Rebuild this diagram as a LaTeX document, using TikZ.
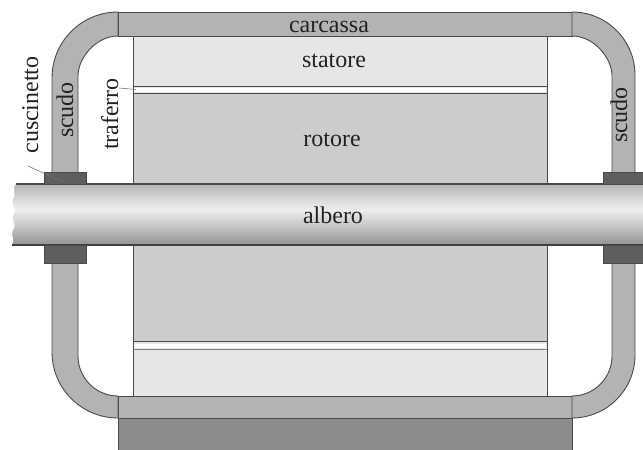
\documentclass[tikz,border=0pt]{standalone}
\usepackage{fontspec}
\setmainfont{Liberation Serif}
\newfontfamily\labelfont{Liberation Serif}
\definecolor{statcol}{HTML}{E6E6E6}
\definecolor{rotcol}{HTML}{CCCCCC}
\definecolor{framecol}{HTML}{B3B3B3}
\definecolor{footcol}{HTML}{8C8C8C}
\definecolor{bearcol}{HTML}{5E5E5E}
\definecolor{edgecol}{HTML}{4A4A4A}
\definecolor{txtcol}{HTML}{222222}
% shaft: dark rims, bright highlight a little above the axis
\pgfdeclareverticalshading{shaftshade}{100bp}{%
  color(0bp)=(black!85); color(4bp)=(black!70); color(18bp)=(black!52);
  color(36bp)=(black!28); color(54bp)=(black!7); color(62bp)=(black!14);
  color(76bp)=(black!30); color(90bp)=(black!50); color(96bp)=(black!68);
  color(100bp)=(black!78)}
\tikzset{
  part/.style={draw=edgecol, line width=0.9pt},
  lbl/.style={text=txtcol, inner sep=0pt, font=\labelfont\fontsize{24}{28}\selectfont},
  leader/.style={draw=black!55, line width=0.6pt},
}
\begin{document}
\begin{tikzpicture}[x=1pt, y=-1pt]
\useasboundingbox (0,0) rectangle (643,450);
\clip (0,0) rectangle (643,450);

% foot of the frame
\filldraw[part, fill=footcol] (118,418) rectangle (572,455);

% carcassa: top and bottom bands
\filldraw[part, fill=framecol] (118,12) rectangle (572,36);
\filldraw[part, fill=framecol] (118,396) rectangle (572,418);

% left end shield (scudo), upper and lower halves
\filldraw[part, fill=framecol] (52,180) -- (52,78)
  .. controls (52,41.5) and (81.5,12) .. (118,12) -- (118,36)
  .. controls (96,36) and (78,58) .. (78,76) -- (78,180) -- cycle;
\filldraw[part, fill=framecol] (52,250) -- (52,352)
  .. controls (52,388.5) and (81.5,418) .. (118,418) -- (118,396)
  .. controls (96,396) and (78,378) .. (78,356) -- (78,250) -- cycle;

% right end shield, upper and lower halves
\filldraw[part, fill=framecol] (635,180) -- (635,75)
  .. controls (635,40.2) and (606.8,12) .. (572,12) -- (572,36)
  .. controls (594,36) and (612,58) .. (612,76) -- (612,180) -- cycle;
\filldraw[part, fill=framecol] (635,250) -- (635,355)
  .. controls (635,389.8) and (606.8,418) .. (572,418) -- (572,396)
  .. controls (594,396) and (612,378) .. (612,356) -- (612,250) -- cycle;

% stator
\filldraw[part, fill=statcol] (133,36) rectangle (547,396);
% rotor
\filldraw[part, fill=rotcol] (133,93) rectangle (547,341);
% air gaps
\fill[white] (134,87.5) rectangle (546,91.5);
\draw[part] (133,86) -- (547,86);
\fill[white] (134,343.5) rectangle (546,347.5);
\draw[part, draw=black!50] (133,349.5) -- (547,349.5);

% shaft with broken left end
\shade[shading=shaftshade] (660,184) -- (16,184)
  .. controls (11,190) and (17,193) .. (13,199)
  .. controls (10,205) and (18,208) .. (14,214)
  .. controls (10,220) and (18,224) .. (13,230)
  .. controls (10,236) and (16,240) .. (12,245)
  -- (660,245) -- cycle;
\draw[edgecol, line width=1.2pt] (16,184) -- (660,184);
\draw[black!75, line width=1.4pt] (12,245) -- (660,245);

% bearings (cuscinetti)
\filldraw[part, fill=bearcol] (44,172) rectangle (86,184);
\filldraw[part, fill=bearcol] (44,245) rectangle (86,263);
\filldraw[part, fill=bearcol] (603,172) rectangle (660,184);
\filldraw[part, fill=bearcol] (603,245) rectangle (660,263);

% labels
\node[lbl, anchor=base] (carcassa) at (329,32) {carcassa};
\node[lbl, anchor=base] (statore) at (334,67) {statore};
\node[lbl, anchor=base] (rotore) at (332,146) {rotore};
\node[lbl, anchor=base] (albero) at (333,223) {albero};
\node[lbl, rotate=90, anchor=base] (scudoL) at (73,110) {scudo};
\node[lbl, rotate=90, anchor=base] (scudoR) at (627,115) {scudo};
\node[lbl, rotate=90, anchor=base] (traferro) at (118,114) {traferro};
\node[lbl, rotate=90, anchor=base] (cuscinetto) at (38,105) {cuscinetto};

% leader lines
\coordinate (trafEnd) at (119,88);
\coordinate (gapL) at (136,89.5);
\coordinate (cusEnd) at (28,166);
\coordinate (bearL) at (63,182);
\draw[leader] (trafEnd) -- (gapL);
\draw[leader] (cusEnd) -- (bearL);
\end{tikzpicture}
\end{document}
